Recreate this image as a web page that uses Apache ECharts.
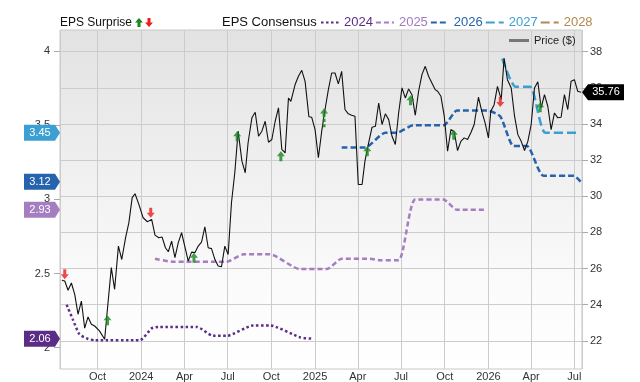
<!DOCTYPE html>
<html>
<head>
<meta charset="utf-8">
<script src="https://cdn.jsdelivr.net/npm/echarts@6/dist/echarts.min.js"></script>
<style>
  html, body { margin: 0; padding: 0; background: #fff; }
  #main { width: 640px; height: 382px; }
</style>
</head>
<body>
<div id="main"></div>
<script>
// axis range (dates) and the year labels
var xMin = '2023-07-14';
var xMax = '2026-07-17';
var monthNames = ['Jan', 'Feb', 'Mar', 'Apr', 'May', 'Jun', 'Jul', 'Aug', 'Sep', 'Oct', 'Nov', 'Dec'];
var epsTicks = [2, 2.5, 3, 3.5, 4];
var priceTicks = [22, 24, 26, 28, 30, 32, 34, 36, 38];

// price ($), right axis
var priceDates = [
  '2023-07-18', '2023-07-24', '2023-07-31', '2023-08-07', '2023-08-14', '2023-08-21', '2023-08-28',
  '2023-09-04', '2023-09-11', '2023-09-18', '2023-09-25', '2023-10-05', '2023-10-16', '2023-10-30',
  '2023-11-06', '2023-11-14', '2023-11-21', '2023-11-29', '2023-12-06', '2023-12-13', '2023-12-19',
  '2023-12-27', '2024-01-05', '2024-01-14', '2024-01-23', '2024-01-30', '2024-02-07', '2024-02-14',
  '2024-02-21', '2024-02-27', '2024-03-05', '2024-03-12', '2024-03-19', '2024-03-26', '2024-04-02',
  '2024-04-09', '2024-04-16', '2024-04-23', '2024-04-30', '2024-05-07', '2024-05-14', '2024-05-21',
  '2024-05-28', '2024-06-04', '2024-06-11', '2024-06-18', '2024-06-25', '2024-07-02', '2024-07-09',
  '2024-07-16', '2024-07-23', '2024-07-31', '2024-08-07', '2024-08-13', '2024-08-21', '2024-08-28',
  '2024-09-04', '2024-09-11', '2024-09-18', '2024-09-25', '2024-10-02', '2024-10-09', '2024-10-16',
  '2024-10-23', '2024-10-30', '2024-11-06', '2024-11-11', '2024-11-20', '2024-11-27', '2024-12-04',
  '2024-12-11', '2024-12-19', '2024-12-25', '2025-01-01', '2025-01-08', '2025-01-15', '2025-01-22',
  '2025-01-29', '2025-02-05', '2025-02-12', '2025-02-19', '2025-02-26', '2025-03-05', '2025-03-12',
  '2025-03-19', '2025-03-26', '2025-04-02', '2025-04-10', '2025-04-16', '2025-04-23', '2025-05-01',
  '2025-05-08', '2025-05-15', '2025-05-22', '2025-05-29', '2025-06-05', '2025-06-12', '2025-06-19',
  '2025-06-26', '2025-07-03', '2025-07-10', '2025-07-17', '2025-07-24', '2025-07-31', '2025-08-07',
  '2025-08-14', '2025-08-21', '2025-08-28', '2025-09-04', '2025-09-11', '2025-09-16', '2025-09-23',
  '2025-09-30', '2025-10-07', '2025-10-14', '2025-10-21', '2025-10-28', '2025-11-04', '2025-11-11',
  '2025-11-18', '2025-11-25', '2025-12-02', '2025-12-11', '2025-12-18', '2025-12-25', '2026-01-01',
  '2026-01-06', '2026-01-13', '2026-01-20', '2026-01-28', '2026-02-03', '2026-02-10', '2026-02-18',
  '2026-02-25', '2026-03-04', '2026-03-11', '2026-03-18', '2026-03-25', '2026-04-01', '2026-04-08',
  '2026-04-15', '2026-04-22', '2026-04-29', '2026-05-06', '2026-05-13', '2026-05-20', '2026-05-27',
  '2026-06-03', '2026-06-10', '2026-06-17', '2026-06-24', '2026-07-01', '2026-07-08', '2026-07-15'
];
var priceValues = [
  25.35, 25.31, 24.80, 25.20, 24.57, 23.47, 24.20,
  22.70, 23.32, 22.92, 22.82, 22.55, 22.09, 26.05,
  24.85, 27.24, 26.50, 27.70, 28.54, 29.92, 30.14,
  29.55, 28.81, 28.59, 28.72, 27.85, 27.70, 27.74,
  27.15, 26.93, 27.52, 26.60, 27.43, 27.98, 27.20,
  26.41, 26.91, 26.88, 27.24, 27.46, 28.31, 27.15,
  27.10, 26.51, 26.14, 26.10, 27.24, 26.78, 29.64,
  31.30, 33.60, 31.94, 31.30, 32.96, 34.34, 34.65,
  33.32, 33.60, 34.15, 32.99, 33.14, 34.15, 34.89,
  32.59, 32.40, 35.44, 35.25, 36.18, 36.64, 36.97,
  36.36, 34.40, 34.37, 33.69, 32.13, 33.60, 34.80,
  35.90, 36.82, 36.82, 36.22, 36.91, 34.80, 34.56,
  34.48, 34.43, 30.65, 30.65, 31.94, 32.86, 33.82,
  33.87, 35.16, 33.97, 34.56, 34.24, 33.32, 32.86,
  34.62, 36.00, 35.44, 35.94, 35.62, 34.48, 35.81,
  36.73, 37.19, 36.64, 36.27, 35.90, 35.81, 35.53,
  34.43, 32.49, 33.69, 33.56, 32.53, 33.04, 33.23,
  33.14, 33.51, 33.97, 35.48, 34.70, 34.06, 33.23,
  34.70, 35.07, 36.08, 35.35, 37.65, 36.45, 35.99,
  34.43, 33.41, 33.04, 32.53, 33.04, 33.97, 35.99,
  36.33, 34.89, 35.62, 34.98, 33.69, 34.61, 34.34,
  34.37, 35.62, 34.80, 36.36, 36.45, 35.81, 35.76
];

// EPS consensus by fiscal year, left axis
var eps2024Dates = ['2023-07-28', '2023-08-10', '2023-08-24', '2023-09-10', '2023-09-25', '2023-12-29', '2024-01-23',
  '2024-02-06', '2024-04-27', '2024-05-31', '2024-06-29', '2024-08-24', '2024-09-28', '2024-11-30', '2024-12-28'];
var eps2024 = [2.29, 2.19, 2.09, 2.06, 2.05, 2.05, 2.13, 2.14, 2.14, 2.08, 2.08, 2.15, 2.15, 2.07, 2.06];

var eps2025Dates = ['2024-01-30', '2024-03-06', '2024-06-29', '2024-08-04', '2024-09-28', '2024-11-30', '2025-01-26',
  '2025-02-26', '2025-04-27', '2025-05-18', '2025-06-26', '2025-07-31', '2025-09-28', '2025-10-27', '2025-12-29'];
var eps2025 = [2.60, 2.58, 2.58, 2.63, 2.63, 2.53, 2.53, 2.60, 2.60, 2.59, 2.59, 3.00, 3.00, 2.93, 2.93];

var eps2026Dates = ['2025-02-26', '2025-04-16', '2025-05-29', '2025-06-22', '2025-07-27', '2025-09-29', '2025-10-27',
  '2025-12-29', '2026-01-26', '2026-02-23', '2026-03-23', '2026-04-27', '2026-06-30', '2026-07-14'];
var eps2026 = [3.35, 3.35, 3.45, 3.45, 3.50, 3.50, 3.60, 3.60, 3.56, 3.36, 3.36, 3.16, 3.16, 3.12];

var eps2027Dates = ['2026-01-30', '2026-02-27', '2026-03-30', '2026-05-01', '2026-07-07'];
var eps2027 = [3.95, 3.76, 3.76, 3.45, 3.45];

var eps2028Dates = [];
var eps2028 = [];

// EPS surprise markers (placed at the price level next to the report)
var surpriseDates = ['2023-07-24', '2023-10-22', '2024-01-21', '2024-04-21', '2024-07-21', '2024-10-21',
  '2025-01-20', '2025-04-21', '2025-07-21', '2025-10-20', '2026-01-26', '2026-04-20'];
var surpriseLevels = [25.68, 23.14, 29.09, 26.6, 33.32, 32.22, 34.34, 32.49, 35.31, 33.41, 35.22, 34.92];
var surpriseDir = ['down', 'up', 'down', 'up', 'up', 'up', 'up', 'up', 'up', 'up', 'down', 'up'];
var surpriseBig = [false, false, false, false, false, false, true, false, false, false, false, false];

var FONT = '"Liberation Sans", Arial, sans-serif';
var GREEN = '#17861b';
var RED = '#ee1c1c';

var upArrow = 'path://M4,0 L8,5 L5.5,5 L5.5,10 L2.5,10 L2.5,5 L0,5 Z';
var upArrowLong = 'path://M4,0 L8,5 L5.5,5 L5.5,8 L2.5,8 L2.5,5 L0,5 Z M2.5,10 L5.5,10 L5.5,13 L2.5,13 Z M2.5,15 L5.5,15 L5.5,18 L2.5,18 Z';
var downArrow = 'path://M2.5,0 L5.5,0 L5.5,5 L8,5 L4,10 L0,5 L2.5,5 Z';
var badgeRight = 'path://M0,0 L31,0 L36,8 L31,16 L0,16 Z';
var badgeLeft = 'path://M0,8 L6,0 L42,0 L42,16 L6,16 Z';

function pairs(dates, values) {
  return dates.map(function (d, i) { return [d, values[i]]; });
}

function epsSeries(name, dates, values, color, dash) {
  var s = {
    name: name,
    type: 'line',
    yAxisIndex: 0,
    data: pairs(dates, values),
    symbol: 'none',
    smooth: 0.2,
    lineStyle: { color: color, width: 2.5, type: dash },
    itemStyle: { color: color },
    z: 3
  };
  if (values.length) {
    var last = values[values.length - 1];
    s.markPoint = {
      silent: true,
      symbol: badgeRight,
      symbolSize: [36, 16],
      symbolOffset: [-18, 0],
      itemStyle: { color: color },
      label: { show: true, position: 'inside', color: '#fff', fontSize: 11, fontFamily: FONT, offset: [-2, 0] },
      data: [{ coord: [xMin, last], value: last.toFixed(2) }]
    };
  }
  return s;
}

var surpriseData = surpriseDates.map(function (d, i) {
  var up = surpriseDir[i] === 'up';
  return {
    value: [d, surpriseLevels[i]],
    symbol: up ? (surpriseBig[i] ? upArrowLong : upArrow) : downArrow,
    symbolSize: surpriseBig[i] ? [8, 19] : [8, 10],
    itemStyle: { color: up ? GREEN : RED }
  };
});

var lastPrice = priceValues[priceValues.length - 1];

var myChart = echarts.init(document.getElementById('main'));

var option = {
  animation: false,
  textStyle: { fontFamily: FONT },
  grid: {
    left: 60, right: 58, top: 30, bottom: 12,
    show: true,
    borderColor: '#c8c8c8',
    borderWidth: 1,
    backgroundColor: new echarts.graphic.LinearGradient(0, 0, 0, 1, [
      { offset: 0, color: '#e2e2e2' },
      { offset: 0.75, color: '#fbfbfb' },
      { offset: 1, color: '#ffffff' }
    ])
  },
  legend: [{
    data: [
      { name: '2024', textStyle: { color: '#5c2d86' } },
      { name: '2025', textStyle: { color: '#a07cbd' } },
      { name: '2026', textStyle: { color: '#2563ad' } },
      { name: '2027', textStyle: { color: '#3b9fd3' } },
      { name: '2028', textStyle: { color: '#b08a4e' } }
    ],
    left: 320, top: 16, padding: 0,
    itemWidth: 18, itemHeight: 14, itemGap: 2,
    itemStyle: { opacity: 0 },
    textStyle: { fontSize: 13, fontFamily: FONT },
    selectedMode: false
  }, {
    data: [{ name: 'Price ($)', icon: 'rect', itemStyle: { color: '#777' } }],
    left: 509, top: 35, padding: 0,
    itemWidth: 20, itemHeight: 3, itemGap: 0,
    textStyle: { fontSize: 11, color: '#222', fontFamily: FONT },
    selectedMode: false
  }],
  graphic: [
    { type: 'text', left: 60, top: 17, style: { text: 'EPS Surprise', fontSize: 12, fontFamily: FONT, fill: '#111' } },
    { type: 'polygon', shape: { points: [[139, 18], [143, 22.5], [140.5, 22.5], [140.5, 27], [137.5, 27], [137.5, 22.5], [135, 22.5]] }, style: { fill: GREEN } },
    { type: 'polygon', shape: { points: [[147.5, 18], [150.5, 18], [150.5, 22.5], [153, 22.5], [149, 27], [145, 22.5], [147.5, 22.5]] }, style: { fill: RED } },
    { type: 'text', left: 222, top: 16, style: { text: 'EPS Consensus', fontSize: 13, fontFamily: FONT, fill: '#111' } }
  ],
  xAxis: {
    type: 'time',
    min: xMin,
    max: xMax,
    splitNumber: 12,
    axisLine: { show: false },
    axisTick: { show: false },
    splitLine: { show: true, lineStyle: { color: '#cccccc', width: 1 } },
    axisLabel: {
      fontSize: 11, color: '#333', margin: 2, fontFamily: FONT,
      showMinLabel: false, showMaxLabel: false,
      formatter: function (val) {
        var d = new Date(val);
        return d.getMonth() === 0 ? String(d.getFullYear()) : monthNames[d.getMonth()];
      }
    }
  },
  yAxis: [{
    type: 'value',
    position: 'left',
    min: 1.856,
    max: 4.143,
    axisLine: { show: false },
    splitLine: { show: false },
    axisTick: { show: true, length: 6, lineStyle: { color: '#aaa' }, customValues: epsTicks },
    axisLabel: { fontSize: 11, color: '#333', margin: 10, customValues: epsTicks, fontFamily: FONT }
  }, {
    type: 'value',
    position: 'right',
    min: 20.44,
    max: 39.2,
    splitNumber: 8,
    axisLine: { show: false },
    splitLine: { show: true, lineStyle: { color: '#cccccc', width: 1 } },
    axisTick: { show: true, length: 6, lineStyle: { color: '#aaa' }, customValues: priceTicks },
    axisLabel: { fontSize: 11, color: '#333', margin: 8, customValues: priceTicks, fontFamily: FONT }
  }],
  series: [
    epsSeries('2024', eps2024Dates, eps2024, '#5c2d86', [2.5, 2.5]),
    epsSeries('2025', eps2025Dates, eps2025, '#a57dc1', [5, 3]),
    epsSeries('2026', eps2026Dates, eps2026, '#2563ad', [6, 3]),
    epsSeries('2027', eps2027Dates, eps2027, '#3b9fd3', [9, 4]),
    epsSeries('2028', eps2028Dates, eps2028, '#b08a4e', [9, 4]),
    {
      name: 'Price ($)',
      type: 'line',
      yAxisIndex: 1,
      data: pairs(priceDates, priceValues),
      symbol: 'none',
      lineStyle: { color: '#111', width: 1.1 },
      itemStyle: { color: '#111' },
      z: 4,
      markPoint: {
        silent: true,
        symbol: badgeLeft,
        symbolSize: [42, 16],
        symbolOffset: [21, 0],
        itemStyle: { color: '#000' },
        label: { show: true, position: 'inside', color: '#fff', fontSize: 11, fontFamily: FONT, offset: [3, 0] },
        data: [{ coord: [xMax, lastPrice], value: lastPrice.toFixed(2) }]
      }
    },
    {
      name: 'EPS Surprise',
      type: 'scatter',
      yAxisIndex: 1,
      data: surpriseData,
      z: 5
    }
  ]
};

myChart.setOption(option);
</script>
</body>
</html>
